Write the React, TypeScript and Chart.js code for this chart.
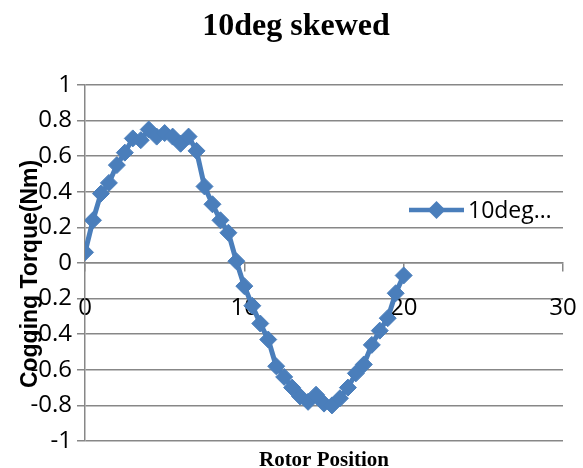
import React, { useEffect, useRef } from 'react';
import { Chart, registerables } from 'chart.js';

Chart.register(...registerables);

const CHART_TITLE = '10deg skewed';
const SERIES_LABEL = '10deg…';
const X_TITLE = 'Rotor Position';
const Y_TITLE = 'Cogging Torque(Nm)';

const rotorPosition = [
  0, 0.5, 1, 1.5, 2, 2.5, 3, 3.5, 4, 4.5, 5, 5.5, 6, 6.5, 7, 7.5, 8, 8.5, 9, 9.5,
  10, 10.5, 11, 11.5, 12, 12.5, 13, 13.5, 14, 14.5, 15, 15.5, 16, 16.5, 17, 17.5,
  18, 18.5, 19, 19.5, 20,
];
const coggingTorque = [
  0.06, 0.24, 0.39, 0.45, 0.55, 0.62, 0.7, 0.69, 0.75, 0.71, 0.73, 0.71, 0.67, 0.71,
  0.63, 0.43, 0.33, 0.24, 0.17, 0.01, -0.13, -0.24, -0.34, -0.43, -0.58, -0.64, -0.7,
  -0.75, -0.78, -0.74, -0.79, -0.8, -0.76, -0.7, -0.62, -0.57, -0.46, -0.38, -0.31,
  -0.17, -0.07,
];

const X_MIN = 0;
const X_MAX = 30;
const X_STEP = 10;
const Y_MIN = -1;
const Y_MAX = 1;
const Y_STEP = 0.2;

const SERIES_COLOR = '#4A7EBB';
const GRID_COLOR = '#878787';
const TICK_FONT = { family: '"Open Sans"', size: 24 };

const textPlugin = {
  id: 'textPlugin',
  afterDraw(chart: any) {
    const ctx: CanvasRenderingContext2D = chart.ctx;
    const area = chart.chartArea;
    ctx.save();
    ctx.fillStyle = '#000';
    ctx.textAlign = 'center';
    ctx.textBaseline = 'alphabetic';
    ctx.font = 'bold 32px "Liberation Serif"';
    ctx.fillText(CHART_TITLE, 296, 35);

    ctx.font = 'bold 21px "Liberation Serif"';
    ctx.fillText(X_TITLE, (area.left + area.right) / 2, 466);

    ctx.save();
    ctx.translate(37, 274);
    ctx.rotate(-Math.PI / 2);
    ctx.font = 'bold 23px "Liberation Sans"';
    ctx.fillText(Y_TITLE, 0, 0);
    ctx.restore();

    // legend
    const ds = chart.data.datasets[0];
    const ly = 210;
    ctx.strokeStyle = ds.borderColor;
    ctx.lineWidth = 4.5;
    ctx.beginPath();
    ctx.moveTo(409, ly);
    ctx.lineTo(464, ly);
    ctx.stroke();
    const r = 9;
    const cx = 436.5;
    ctx.fillStyle = ds.backgroundColor;
    ctx.beginPath();
    ctx.moveTo(cx - r, ly);
    ctx.lineTo(cx, ly - r);
    ctx.lineTo(cx + r, ly);
    ctx.lineTo(cx, ly + r);
    ctx.closePath();
    ctx.fill();

    ctx.fillStyle = '#000';
    ctx.textAlign = 'left';
    ctx.textBaseline = 'middle';
    ctx.font = '23px "Open Sans"';
    ctx.fillText(SERIES_LABEL, 468, ly + 1);
    ctx.restore();
  },
};

export default function App() {
  const canvasRef = useRef<HTMLCanvasElement | null>(null);

  useEffect(() => {
    if (!canvasRef.current) return;
    const chart = new Chart(canvasRef.current, {
      type: 'line',
      data: {
        datasets: [
          {
            label: SERIES_LABEL,
            data: rotorPosition.map((x, i) => ({ x, y: coggingTorque[i] })),
            borderColor: SERIES_COLOR,
            backgroundColor: SERIES_COLOR,
            borderWidth: 5,
            pointStyle: 'rectRot',
            pointRadius: 8.5,
            pointBorderWidth: 1,
            tension: 0,
          },
        ],
      },
      options: {
        animation: false,
        responsive: true,
        maintainAspectRatio: false,
        layout: { padding: { left: 0, top: 85, right: 20, bottom: 27 } },
        plugins: {
          legend: { display: false },
          title: { display: false },
          tooltip: { enabled: false },
        },
        scales: {
          x: {
            type: 'linear',
            position: { y: 0 } as any,
            min: X_MIN,
            max: X_MAX,
            ticks: {
              stepSize: X_STEP,
              color: '#000',
              font: TICK_FONT,
              padding: 23,
              maxRotation: 0,
            },
            grid: {
              drawOnChartArea: false,
              drawTicks: true,
              tickLength: 8,
              color: GRID_COLOR,
              lineWidth: 1.5,
            },
            border: { color: GRID_COLOR, width: 1.5 },
            afterFit: (scale: any) => {
              scale.paddingLeft = 0;
              scale.paddingRight = 0;
            },
          },
          y: {
            type: 'linear',
            min: Y_MIN,
            max: Y_MAX,
            ticks: {
              stepSize: Y_STEP,
              color: '#000',
              font: TICK_FONT,
              padding: 5,
              callback: (v: any) => String(Number(Number(v).toFixed(1))),
            },
            grid: {
              color: GRID_COLOR,
              lineWidth: 1.5,
              tickLength: 8,
            },
            border: { color: GRID_COLOR, width: 1.5 },
            afterFit: (scale: any) => {
              scale.width = 85;
            },
          },
        },
      },
      plugins: [textPlugin],
    });
    return () => chart.destroy();
  }, []);

  return (
    <div style={{ position: 'fixed', left: 0, top: 0, width: 583, height: 468, background: '#fff' }}>
      <canvas ref={canvasRef} />
    </div>
  );
}
